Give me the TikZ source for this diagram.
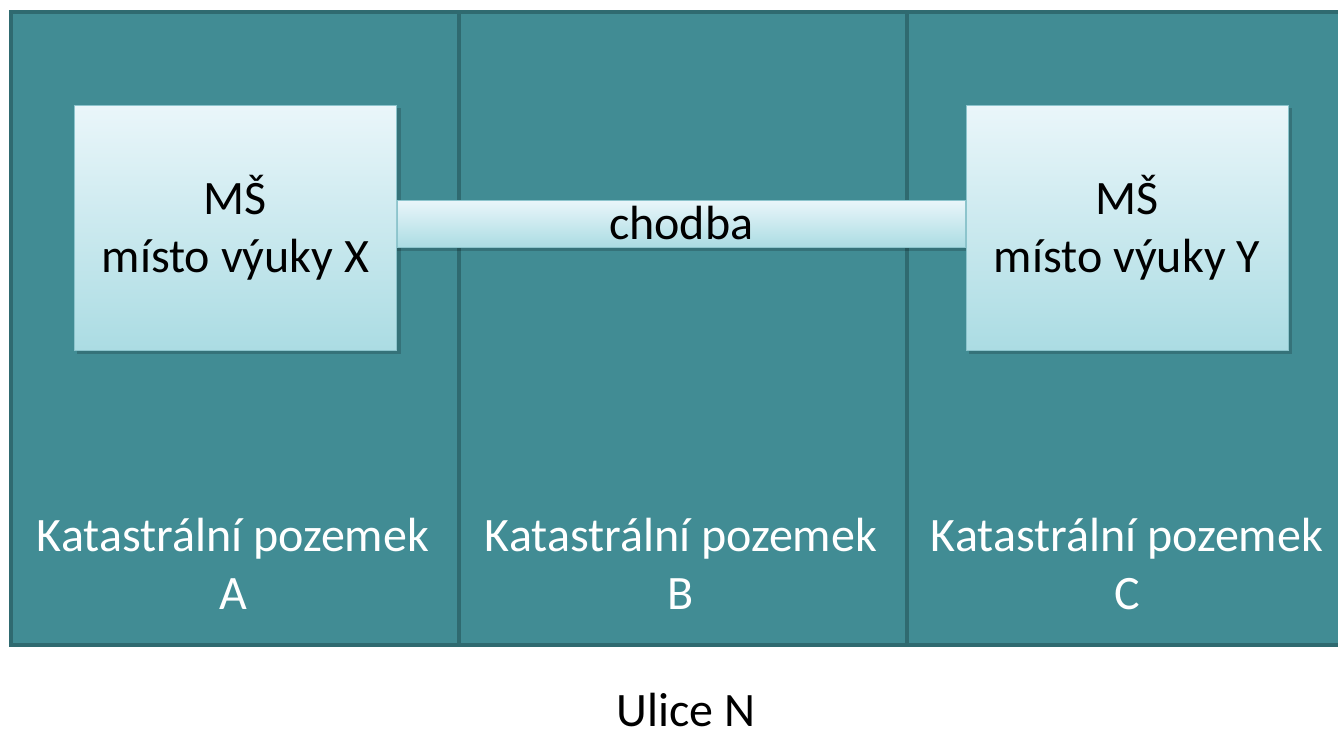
\documentclass[tikz,border=0pt]{standalone}
\usepackage{fontspec}
\setmainfont{Carlito}
\usetikzlibrary{positioning,calc}
\definecolor{tealfill}{HTML}{418C94}
\definecolor{tealedge}{HTML}{2F6A70}
\definecolor{boxtop}{HTML}{EAF6FA}
\definecolor{boxbot}{HTML}{ABDCE3}
\definecolor{boxedge}{HTML}{8CC4CC}
\tikzset{
  plot/.style={rectangle, fill=tealfill, draw=tealedge, line width=3.5pt, inner sep=0pt, minimum height=633pt},
  school/.style={rectangle, top color=boxtop, bottom color=boxbot, draw=boxedge, line width=0.8pt,
     minimum width=322pt, minimum height=245pt, align=center, inner sep=0pt,
     font=\fontsize{48}{58}\selectfont, text=black},
  corridor/.style={rectangle, top color=boxtop, bottom color=boxbot, draw=boxedge, line width=0.8pt,
     minimum height=47pt, inner sep=0pt, font=\fontsize{48}{58}\selectfont, text=black},
  plotlabel/.style={align=center, text=white, font=\fontsize{48}{58}\selectfont, inner sep=0pt},
  streetlabel/.style={text=black, font=\fontsize{48}{58}\selectfont, inner sep=0pt, text depth=0pt},
  shade/.style={fill=black, opacity=0.18}
}
\begin{document}
\begin{tikzpicture}[x=1pt,y=-1pt]
\useasboundingbox (0,0) rectangle (1338,732);
\begin{scope}
\clip (0,0) rectangle (1338,732);
% plots
\node[plot, minimum width=448pt, anchor=north west] (pA) at (9,10) {};
\node[plot, minimum width=448pt, anchor=north west] (pB) at (457,10) {};
\node[plot, minimum width=448pt, anchor=north west] (pC) at (905,10) {};
% shadows
\fill[shade] (77,108) rectangle (401,354);
\fill[shade] (969,108) rectangle (1292,354);
\fill[shade] (397,203) rectangle (966,251);
% schools
\node[school] (X) at (235.5,227.5) {MŠ\\místo výuky X};
\node[school] (Y) at (1127,227.5) {MŠ\\místo výuky Y};
% corridor
\path let \p1=(X.east), \p2=(Y.west), \n1={\x2-\x1} in
  node[corridor, minimum width=\n1] (ch) at ($(X.east)!0.5!(Y.west)+(0,-4)$) {chodba};
% labels
\node[plotlabel] (lA) at (233,564) {Katastrální pozemek\\A};
\node[plotlabel] (lB) at (681,564) {Katastrální pozemek\\B};
\node[plotlabel] (lC) at (1127,564) {Katastrální pozemek\\C};
\node[streetlabel, anchor=base] (ul) at (686,726) {Ulice N};
\end{scope}
\end{tikzpicture}
\end{document}
